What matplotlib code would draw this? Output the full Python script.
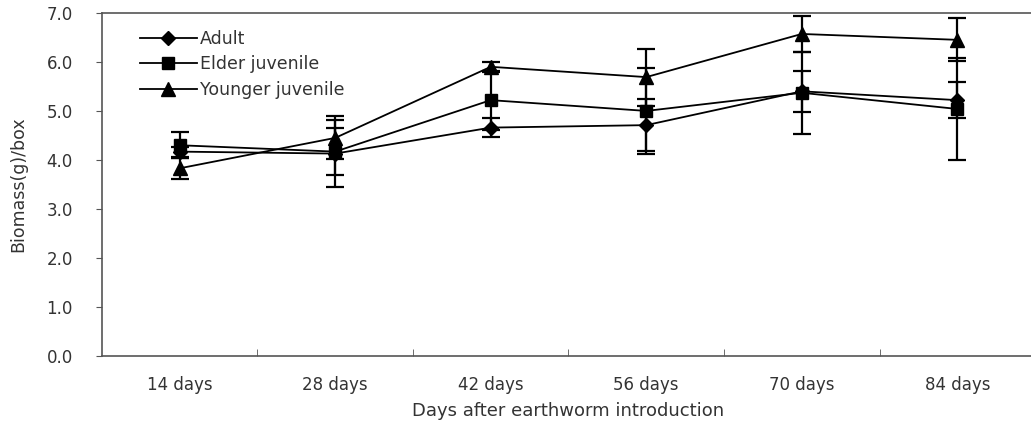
import matplotlib.pyplot as plt

# data
days = ["14 days", "28 days", "42 days", "56 days", "70 days", "84 days"]
adult = [4.17, 4.13, 4.66, 4.71, 5.40, 5.22]
adult_err = [0.10, 0.68, 0.19, 0.53, 0.42, 0.37]
elder = [4.30, 4.17, 5.22, 5.00, 5.37, 5.04]
elder_err = [0.27, 0.48, 0.60, 0.88, 0.84, 1.04]
younger = [3.83, 4.45, 5.90, 5.69, 6.57, 6.45]
younger_err = [0.22, 0.44, 0.10, 0.58, 0.37, 0.44]

plt.rcParams['font.family'] = 'DejaVu Sans'
txt = '#333333'

fig = plt.figure(figsize=(10.31, 4.29), dpi=100)
ax = fig.add_axes([0.0989, 0.170, 0.905, 0.800])

x = list(range(len(days)))
style = dict(color='black', lw=1.3, elinewidth=1.6, capsize=6.5, capthick=1.6)
ax.errorbar(x, adult, yerr=adult_err, marker='D', ms=7, label='Adult', **style)
ax.errorbar(x, elder, yerr=elder_err, marker='s', ms=8.5, label='Elder juvenile', **style)
ax.errorbar(x, younger, yerr=younger_err, marker='^', ms=9.5, label='Younger juvenile', **style)

ax.set_xlim(-0.5, 5.5)
ax.set_ylim(0, 7)
ax.set_yticks([i for i in range(8)])
ax.set_yticklabels([f"{i:.1f}" for i in range(8)])
ax.set_xticks(x)
ax.set_xticklabels(days)
ax.set_xticks([i + 0.5 for i in range(5)], minor=True)
ax.tick_params(axis='x', which='major', length=0, pad=14, labelsize=12, labelcolor=txt)
ax.tick_params(axis='x', which='minor', direction='in', length=5, color='#555555')
ax.tick_params(axis='y', direction='out', length=4, labelsize=12, labelcolor=txt, color='#555555', pad=17)

for s in ['left', 'bottom', 'top']:
    ax.spines[s].set_color('#555555')
    ax.spines[s].set_linewidth(1.2)
ax.spines['right'].set_visible(False)

ax.set_xlabel("Days after earthworm introduction", fontsize=13, color=txt, labelpad=6)
ax.set_ylabel("Biomass(g)/box", fontsize=12.5, color=txt, labelpad=14)

handles, labels = ax.get_legend_handles_labels()
handles = [h[0] for h in handles]
ax.legend(handles, labels, loc='upper left', bbox_to_anchor=(0.033, 0.97), frameon=False,
          fontsize=12.5, handlelength=3.3, handletextpad=0.15, labelspacing=0.42,
          labelcolor=txt, borderaxespad=0)

fig.savefig('out.png', dpi=100)
